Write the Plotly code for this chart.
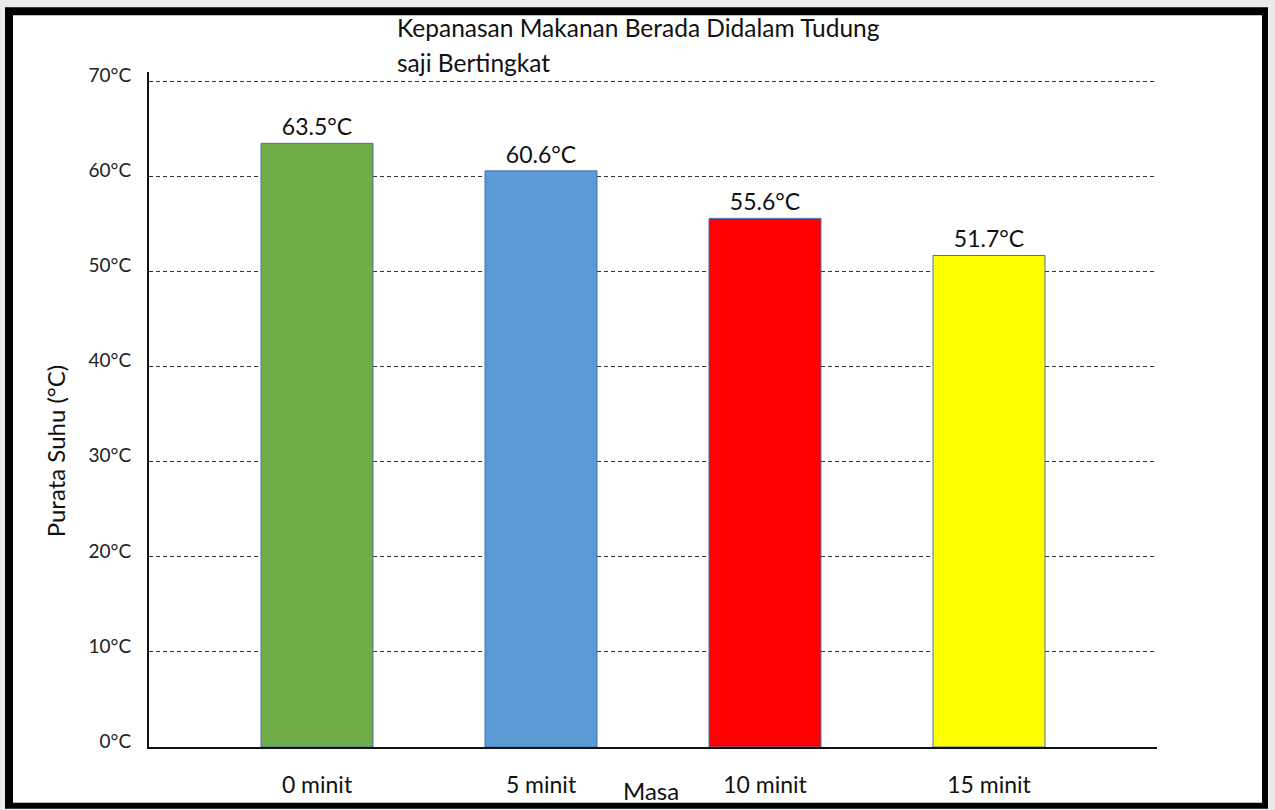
import plotly.graph_objects as go

# Average food temperature under a multi-tier food cover
categories = ["0 minit", "5 minit", "10 minit", "15 minit"]
temperatures = [63.5, 60.6, 55.6, 51.7]
bar_labels = ["63.5°C", "60.6°C", "55.6°C", "51.7°C"]
bar_colors = ["#70AD47", "#5B9BD5", "#FF0000", "#FFFF00"]
y_tick_values = [0, 10, 20, 30, 40, 50, 60, 70]
y_tick_labels = ["0°C", "10°C", "20°C", "30°C", "40°C", "50°C", "60°C", "70°C"]
title_lines = ["Kepanasan Makanan Berada Didalam Tudung", "saji Bertingkat"]

FONT = "Lato, 'Open Sans', sans-serif"
W, H = 1275, 810
ML, MR, MT, MB = 149, 118, 72, 60
PW, PH = W - ML - MR, H - MT - MB


def px_x(px):
    return (px - ML) / PW


def px_y(py):
    return (H - MB - py) / PH


fig = go.Figure()
fig.add_trace(go.Bar(
    x=categories,
    y=temperatures,
    width=0.5,
    marker=dict(color=bar_colors, line=dict(color="#4A6FB5", width=1)),
    text=bar_labels,
    textposition="outside",
    textfont=dict(family=FONT, size=23, color="#111111"),
    cliponaxis=False,
    hoverinfo="skip",
))

fig.update_layout(
    width=W,
    height=H,
    margin=dict(l=ML, r=MR, t=MT, b=MB),
    paper_bgcolor="#ebebeb",
    plot_bgcolor="rgba(0,0,0,0)",
    showlegend=False,
    font=dict(family=FONT, color="#111111"),
    xaxis=dict(
        range=[-0.75, 3.75],
        showgrid=False,
        showline=True,
        linecolor="#111111",
        linewidth=2,
        ticks="",
        tickfont=dict(family=FONT, size=23, color="#111111"),
        ticklabelstandoff=16,
        fixedrange=True,
    ),
    yaxis=dict(
        range=[0, 71],
        tickvals=y_tick_values,
        ticktext=y_tick_labels,
        showgrid=True,
        gridcolor="#333333",
        gridwidth=1,
        griddash="4px,3px",
        zeroline=False,
        showline=True,
        linecolor="#111111",
        linewidth=2,
        ticks="",
        tickfont=dict(family=FONT, size=19, color="#222222"),
        ticklabelstandoff=12,
        ticklabelshift=-6,
        fixedrange=True,
    ),
    shapes=[
        # page frame: black band with a white sheet inside
        dict(type="rect", xref="paper", yref="paper", layer="below",
             x0=px_x(5), x1=px_x(1268), y0=px_y(812), y1=px_y(7),
             fillcolor="black", line=dict(width=0)),
        dict(type="rect", xref="paper", yref="paper", layer="below",
             x0=px_x(13), x1=px_x(1262), y0=px_y(806), y1=px_y(15),
             fillcolor="white", line=dict(width=0)),
    ],
    annotations=[
        dict(text=title_lines[0], xref="paper", yref="paper", x=px_x(395), y=px_y(27),
             xanchor="left", yanchor="middle", align="left", showarrow=False,
             font=dict(family=FONT, size=24.5, color="#111111")),
        dict(text=title_lines[1], xref="paper", yref="paper", x=px_x(395), y=px_y(62),
             xanchor="left", yanchor="middle", align="left", showarrow=False,
             font=dict(family=FONT, size=24.5, color="#111111")),
        dict(text="Purata Suhu (°C)", xref="paper", yref="paper",
             x=px_x(55), y=px_y(453), textangle=-90,
             xanchor="center", yanchor="middle", showarrow=False,
             font=dict(family=FONT, size=24, color="#111111")),
        dict(text="Masa", xref="paper", yref="paper", x=px_x(651), y=px_y(794),
             xanchor="center", yanchor="middle", showarrow=False,
             font=dict(family=FONT, size=24, color="#111111")),
    ],
)

fig.write_html("out.html")
